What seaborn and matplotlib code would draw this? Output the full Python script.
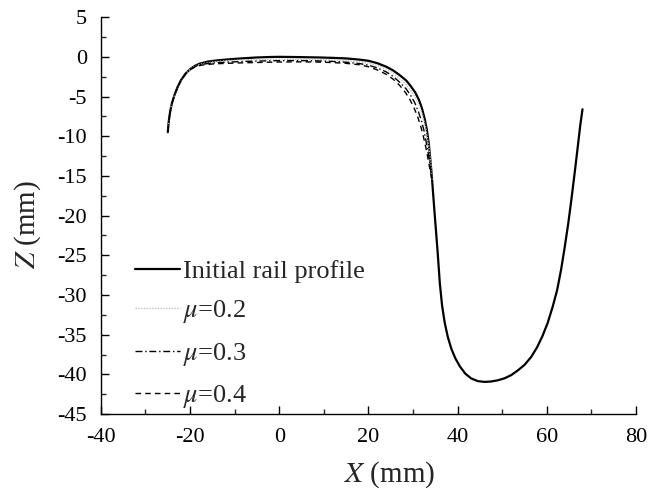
import numpy as np
import pandas as pd
import matplotlib
matplotlib.use("Agg")
import matplotlib.pyplot as plt
from matplotlib.ticker import MultipleLocator
import seaborn as sns

# Rail head profile (lateral X, vertical Z, mm)
x_initial = [-25.0, -24.8, -24.5, -24.1, -23.5, -22.8, -22.0, -21.0, -19.9, -18.8,
             -17.8, -16.0, -14.0, -11.0, -8.0, -5.0, -2.0, 0.0, 3.0, 6.0,
             9.0, 12.0, 15.0, 18.0, 20.0, 22.0, 24.0, 25.5, 27.0, 28.5,
             29.5, 30.5, 31.3, 32.0, 32.6, 33.1, 33.5, 33.8, 34.2, 34.9,
             35.5, 36.0, 36.5, 37.1, 37.8, 38.6, 39.5, 40.5, 41.7, 43.0,
             44.5, 46.0, 47.5, 49.0, 50.5, 52.0, 53.5, 55.0, 56.5, 57.8,
             59.0, 60.2, 61.3, 62.3, 63.2, 64.0, 64.8, 65.5, 66.2, 66.9,
             67.5, 68.0]
z_initial = [-9.5, -8.2, -7.0, -5.9, -4.8, -3.8, -2.9, -2.1, -1.5, -1.1,
             -0.85, -0.6, -0.45, -0.3, -0.18, -0.08, -0.02, 0.0, -0.02, -0.05,
             -0.08, -0.13, -0.2, -0.35, -0.5, -0.8, -1.25, -1.7, -2.3, -3.0,
             -3.7, -4.5, -5.4, -6.5, -7.8, -9.2, -10.8, -12.5, -15.0, -20.2,
             -24.5, -28.5, -31.3, -33.5, -35.3, -36.8, -38.0, -39.0, -39.9, -40.5,
             -40.85, -40.95, -40.9, -40.75, -40.5, -40.1, -39.5, -38.8, -37.8, -36.6,
             -35.2, -33.5, -31.5, -29.4, -26.8, -24.0, -21.0, -18.0, -14.8, -11.5,
             -8.6, -6.6]

# Worn running band / gauge corner for each friction coefficient
x_mu02 = [-25.0, -24.8, -24.5, -24.1, -23.5, -22.8, -22.0, -21.0, -19.9, -18.8,
          -17.5, -15.0, -12.0, -8.0, -4.0, 0.0, 4.0, 8.0, 12.0, 15.0,
          18.0, 20.0, 22.0, 24.0, 25.5, 27.0, 28.5, 29.6, 30.5, 31.4,
          32.1, 32.7, 33.2, 33.6, 34.0, 34.25]
z_mu02 = [-9.5, -8.2, -7.0, -5.9, -4.8, -3.8, -2.9, -2.1, -1.5, -1.15,
          -0.9, -0.65, -0.5, -0.38, -0.32, -0.3, -0.3, -0.33, -0.4, -0.48,
          -0.63, -0.8, -1.1, -1.55, -2.05, -2.75, -3.5, -4.3, -5.1, -6.1,
          -7.3, -8.6, -10.1, -11.6, -13.5, -15.5]

x_mu03 = [-25.0, -24.8, -24.5, -24.1, -23.5, -22.8, -22.0, -21.0, -19.9, -18.8,
          -17.5, -15.0, -12.0, -8.0, -4.0, 0.0, 4.0, 8.0, 12.0, 15.0,
          18.0, 20.0, 22.0, 24.0, 25.5, 27.0, 28.4, 29.5, 30.4, 31.2,
          31.9, 32.5, 33.0, 33.5, 33.9, 34.25]
z_mu03 = [-9.5, -8.2, -7.0, -5.9, -4.8, -3.8, -2.9, -2.1, -1.55, -1.2,
          -0.95, -0.78, -0.68, -0.58, -0.52, -0.48, -0.47, -0.5, -0.58, -0.68,
          -0.85, -1.05, -1.4, -1.9, -2.45, -3.2, -4.0, -4.9, -5.8, -6.9,
          -8.1, -9.4, -10.9, -12.5, -14.0, -15.5]

x_mu04 = [-25.0, -24.8, -24.5, -24.1, -23.5, -22.8, -22.0, -21.0, -19.9, -18.8,
          -17.5, -15.0, -12.0, -8.0, -4.0, 0.0, 4.0, 8.0, 12.0, 15.0,
          18.0, 20.0, 22.0, 24.0, 25.5, 27.0, 28.3, 29.3, 30.2, 31.0,
          31.7, 32.3, 32.9, 33.4, 33.9, 34.25]
z_mu04 = [-9.5, -8.2, -7.0, -5.9, -4.8, -3.8, -2.9, -2.15, -1.6, -1.25,
          -1.05, -0.9, -0.82, -0.75, -0.7, -0.65, -0.63, -0.65, -0.72, -0.82,
          -1.0, -1.25, -1.65, -2.2, -2.8, -3.6, -4.5, -5.4, -6.4, -7.5,
          -8.7, -10.0, -11.5, -13.0, -14.5, -15.5]

labels = ["Initial rail profile", r"$\mu$=0.2", r"$\mu$=0.3", r"$\mu$=0.4"]

sns.set_theme(style="ticks")
plt.rcParams["font.family"] = ["Liberation Serif", "DejaVu Serif"]
plt.rcParams["mathtext.fontset"] = "stix"
plt.rcParams["axes.unicode_minus"] = False

fig = plt.figure(figsize=(6.51, 4.90), dpi=100)
ax = fig.add_axes([0.155, 0.155, 0.822, 0.81])

series = [
    (x_initial, z_initial, dict(color="black", linestyle="-", linewidth=1.6)),
    (x_mu02, z_mu02, dict(color="#c0c0c0", linestyle=(0, (1, 1)), linewidth=1.0)),
    (x_mu03, z_mu03, dict(color="black", linestyle=(0, (5, 2, 1, 2)), linewidth=1.0)),
    (x_mu04, z_mu04, dict(color="black", linestyle=(0, (4, 3)), linewidth=1.0)),
]
for (xs, zs, style), lab in zip(series, labels):
    df = pd.DataFrame({"X": xs, "Z": zs})
    sns.lineplot(data=df, x="X", y="Z", sort=False, estimator=None,
                 ax=ax, label=lab, **style)

ax.set_xlim(-40, 80)
ax.set_ylim(-45, 5)
ax.xaxis.set_major_locator(MultipleLocator(20))
ax.xaxis.set_minor_locator(MultipleLocator(10))
ax.yaxis.set_major_locator(MultipleLocator(5))
ax.yaxis.set_minor_locator(MultipleLocator(2.5))
ax.tick_params(which="major", direction="in", length=6, width=1,
               labelsize=16, colors="black", pad=10)
ax.tick_params(which="minor", direction="in", length=3.5, width=1)
for side in ("top", "right"):
    ax.spines[side].set_visible(False)
for side in ("left", "bottom"):
    ax.spines[side].set_linewidth(1.0)
    ax.spines[side].set_color("black")

ax.set_xlabel(r"$X$ (mm)", fontsize=21)
ax.set_ylabel(r"$Z$ (mm)", fontsize=21)
ax.xaxis.set_label_coords(0.54, -0.113)
ax.yaxis.set_label_coords(-0.109, 0.479)

leg = ax.legend(loc="lower left", bbox_to_anchor=(0.057, 0.0), frameon=False,
                fontsize=19, handlelength=1.7, handletextpad=0.1,
                labelspacing=0.58, borderaxespad=0.0, borderpad=0.15)

fig.savefig("out.png", dpi=100)
